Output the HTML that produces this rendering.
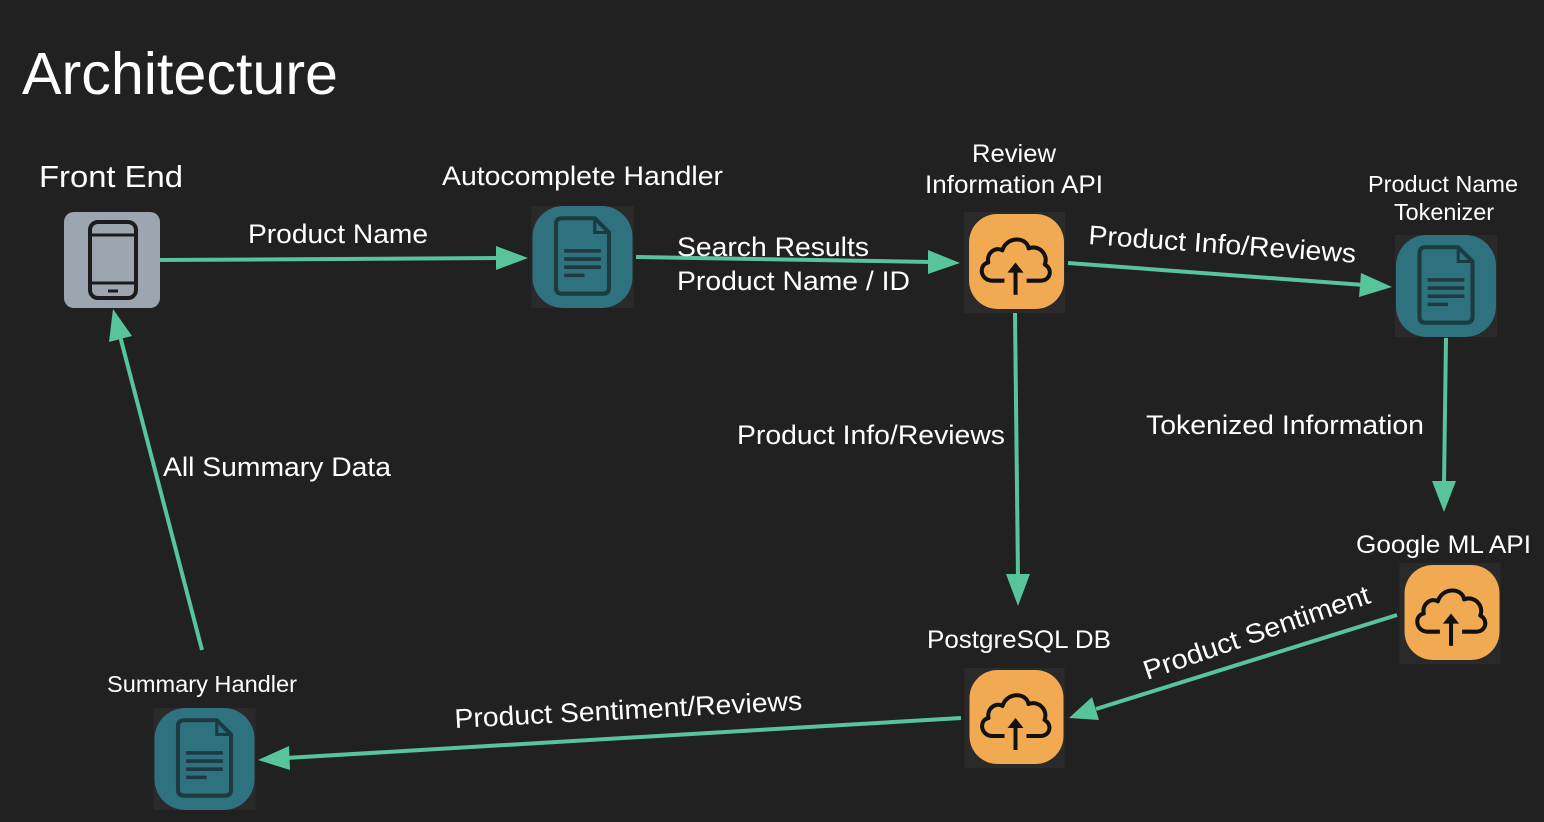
<!DOCTYPE html>
<html><head><meta charset="utf-8"><style>
html,body{margin:0;padding:0;background:#212121;}
svg{display:block}
text{font-family:"Liberation Sans",Arial,sans-serif;fill:#fff}
</style></head><body>
<svg width="1544" height="822" viewBox="0 0 1544 822" xmlns="http://www.w3.org/2000/svg">
<defs>
<symbol id="doc" viewBox="0 0 100 100">
<rect x="0" y="0" width="100" height="100" fill="#2a2a2a"/>
<rect x="1" y="0" width="98" height="100" rx="30" fill="#2e7280"/>
<path d="M30,12 H62 L76,26 V80 Q76,86 70,86 H30 Q24,86 24,80 V18 Q24,12 30,12 Z" fill="none" stroke="#1d3a40" stroke-width="4"/>
<path d="M62,12 V26 H76" fill="none" stroke="#1d3a40" stroke-width="3"/>
<path d="M32,44 H68 M32,52 H68 M32,60 H68 M32,68 H52" stroke="#1d3a40" stroke-width="3.5"/>
</symbol>
<symbol id="cloud" viewBox="0 0 100 100">
<rect x="0" y="0" width="100" height="100" fill="#2a2a2a"/>
<rect x="5" y="2" width="94" height="94" rx="28" fill="#f2aa52"/>
<path d="M40,68 H28 C16,68 14,52 24,50 C22,40 32,34 38,38 C42,24 62,24 64,36 C74,32 84,42 80,52 C88,56 86,68 76,68 H62" fill="none" stroke="#111" stroke-width="4" stroke-linejoin="round"/>
<path d="M51,82 V56" stroke="#111" stroke-width="4"/>
<path d="M43,60 L51,50 L59,60 Z" fill="#111"/>
</symbol>
</defs>

<text x="22" y="94" font-size="59" textLength="316" lengthAdjust="spacingAndGlyphs">Architecture</text>

<g>
<rect x="64" y="212" width="96" height="96" rx="10" fill="#9ca6b0"/>
<rect x="90" y="222" width="46" height="76" rx="8" fill="none" stroke="#1c1c1c" stroke-width="4"/>
<path d="M90,235 H136 M90,283 H136" stroke="#1c1c1c" stroke-width="3"/>
<path d="M108,291 H118" stroke="#1c1c1c" stroke-width="3"/>
</g>

<use href="#doc" x="529" y="206" width="107" height="102"/>
<use href="#doc" x="1392" y="235" width="108" height="102"/>
<use href="#doc" x="151" y="708" width="107" height="102"/>
<use href="#cloud" x="961" y="212" width="107" height="101"/>
<use href="#cloud" x="1397" y="563" width="106" height="101"/>
<use href="#cloud" x="961" y="668" width="107" height="100"/>

<g stroke="#57c49b" stroke-width="4" fill="none">
<line x1="160" y1="260" x2="500" y2="258"/>
<line x1="636" y1="257" x2="932" y2="262"/>
<line x1="1068" y1="263" x2="1364" y2="285"/>
<line x1="1015" y1="313" x2="1018" y2="578"/>
<line x1="1446" y1="338" x2="1444" y2="485"/>
<line x1="1397" y1="615" x2="1096" y2="709"/>
<line x1="961" y1="718" x2="286" y2="758"/>
<line x1="202" y1="650" x2="120" y2="336"/>
</g>
<g fill="#57c49b">
<polygon points="528,258 496,246 496,270"/>
<polygon points="960,263 928,250 928,274"/>
<polygon points="1392,287 1361,273 1359,297"/>
<polygon points="1018,606 1006,574 1030,574"/>
<polygon points="1444,512 1432,481 1456,481"/>
<polygon points="1069,718 1092,697 1099,720"/>
<polygon points="258,760 289,746 290,770"/>
<polygon points="113,309 109,342 132,336"/>
</g>

<text x="39" y="187" font-size="31" textLength="144" lengthAdjust="spacingAndGlyphs">Front End</text>
<text x="442" y="185" font-size="27" textLength="281" lengthAdjust="spacingAndGlyphs">Autocomplete Handler</text>
<text x="972" y="162" font-size="25" textLength="84" lengthAdjust="spacingAndGlyphs">Review</text>
<text x="925" y="193" font-size="25" textLength="178" lengthAdjust="spacingAndGlyphs">Information API</text>
<text x="1368" y="192" font-size="23" textLength="150" lengthAdjust="spacingAndGlyphs">Product Name</text>
<text x="1394" y="220" font-size="23" textLength="100" lengthAdjust="spacingAndGlyphs">Tokenizer</text>
<text x="1356" y="553" font-size="25" textLength="175" lengthAdjust="spacingAndGlyphs">Google ML API</text>
<text x="927" y="648" font-size="25" textLength="184" lengthAdjust="spacingAndGlyphs">PostgreSQL DB</text>
<text x="107" y="692" font-size="23" textLength="190" lengthAdjust="spacingAndGlyphs">Summary Handler</text>

<text x="248" y="243" font-size="27" textLength="180" lengthAdjust="spacingAndGlyphs">Product Name</text>
<text x="677" y="256" font-size="27" textLength="192" lengthAdjust="spacingAndGlyphs">Search Results</text>
<text x="677" y="290" font-size="27" textLength="233" lengthAdjust="spacingAndGlyphs">Product Name / ID</text>
<text x="1088" y="244" font-size="27" transform="rotate(4 1088 244)" textLength="268" lengthAdjust="spacingAndGlyphs">Product Info/Reviews</text>
<text x="737" y="444" font-size="27" textLength="268" lengthAdjust="spacingAndGlyphs">Product Info/Reviews</text>
<text x="1146" y="434" font-size="27" textLength="278" lengthAdjust="spacingAndGlyphs">Tokenized Information</text>
<text x="163" y="476" font-size="27" textLength="228" lengthAdjust="spacingAndGlyphs">All Summary Data</text>
<text x="1147" y="680" font-size="27" transform="rotate(-19 1147 680)" textLength="238" lengthAdjust="spacingAndGlyphs">Product Sentiment</text>
<text x="455" y="728" font-size="27" transform="rotate(-3 455 728)" textLength="348" lengthAdjust="spacingAndGlyphs">Product Sentiment/Reviews</text>
</svg>
</body></html>
